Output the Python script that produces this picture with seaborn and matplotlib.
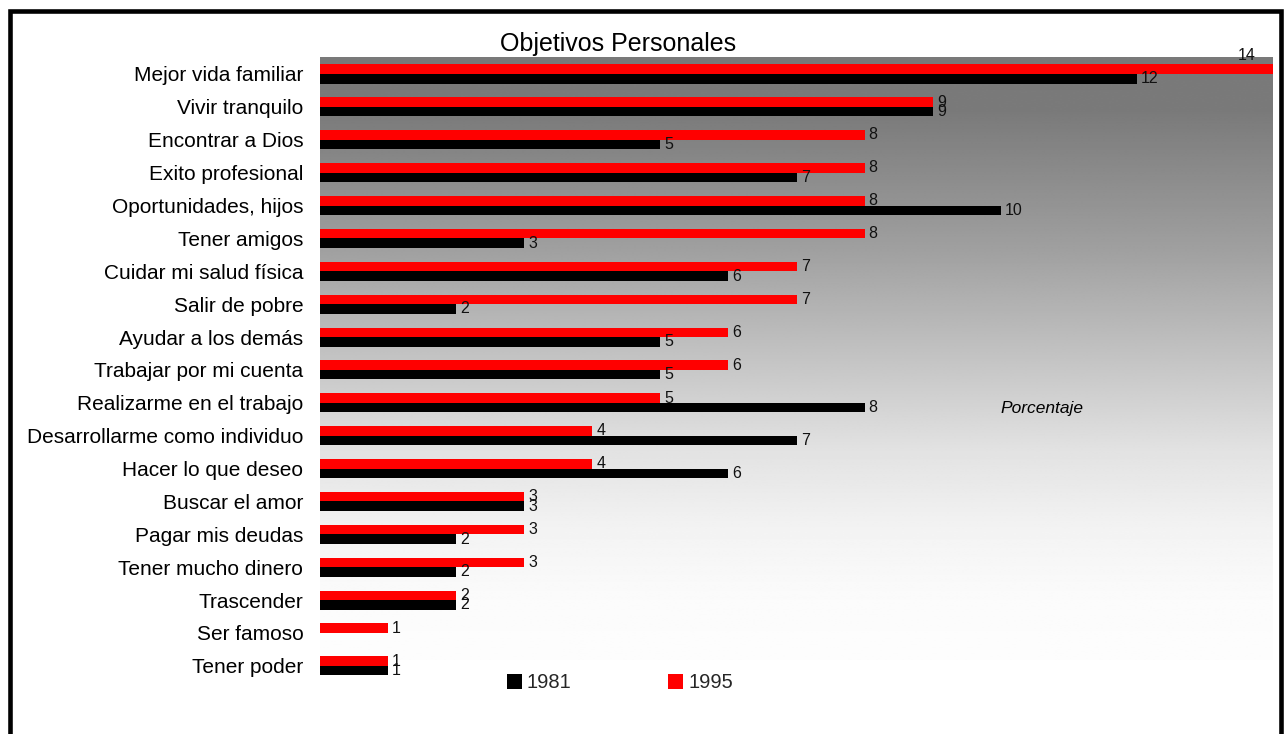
import numpy as np
import pandas as pd
import matplotlib
matplotlib.use("Agg")
import matplotlib.pyplot as plt
from matplotlib.patches import Rectangle, Patch
import seaborn as sns

categories = ["Mejor vida familiar", "Vivir tranquilo", "Encontrar a Dios",
              "Exito profesional", "Oportunidades, hijos", "Tener amigos",
              "Cuidar mi salud física", "Salir de pobre", "Ayudar a los demás",
              "Trabajar por mi cuenta", "Realizarme en el trabajo",
              "Desarrollarme como individuo", "Hacer lo que deseo",
              "Buscar el amor", "Pagar mis deudas", "Tener mucho dinero",
              "Trascender", "Ser famoso", "Tener poder"]
v1995 = [14, 9, 8, 8, 8, 8, 7, 7, 6, 6, 5, 4, 4, 3, 3, 3, 2, 1, 1]
v1981 = [12, 9, 5, 7, 10, 3, 6, 2, 5, 5, 8, 7, 6, 3, 2, 2, 2, 0, 1]
series = ["1995", "1981"]
legend_order = ["1981", "1995"]
colors = {"1995": "#ff0000", "1981": "#000000"}

df = pd.DataFrame({
    "Objetivo": categories * 2,
    "Porcentaje": v1995 + v1981,
    "Año": ["1995"] * len(categories) + ["1981"] * len(categories),
})

sns.set_theme(style="white")
plt.rcParams["font.family"] = ["Liberation Sans", "DejaVu Sans"]

W, H = 1284, 734
fig = plt.figure(figsize=(W / 100, H / 100), dpi=100)
fig.patch.set_facecolor("white")

ax_top_px, ax_bot_px = 57, 679
ax = fig.add_axes([320 / W, 1 - ax_bot_px / H, (1273 - 320) / W, (ax_bot_px - ax_top_px) / H])
ax.set_facecolor("none")

# vertical gradient background (dark grey at top fading to white)
ys = np.linspace(57, 660, 400)
g = np.interp(ys, [57, 110, 250, 450, 530, 600, 660],
              [122, 122, 160, 226, 243, 251, 253]) / 255.0
img = np.repeat(g[:, None], 2, axis=1)
grad_bottom = (ax_bot_px - 660) / (ax_bot_px - ax_top_px)
ax.imshow(img, cmap="gray", vmin=0, vmax=1, aspect="auto",
          extent=[0, 1, grad_bottom, 1], transform=ax.transAxes, zorder=0,
          interpolation="bilinear")

sns.barplot(data=df, y="Objetivo", x="Porcentaje", hue="Año", hue_order=series,
            palette=colors, orient="h", width=0.58, saturation=1,
            errorbar=None, legend=False, ax=ax, zorder=2, linewidth=0,
            edgecolor="none")

xmax = max(v1995 + v1981)
ax.set_xlim(0, xmax)
ax.set_ylim(18.4, -0.517)

for cont in ax.containers:
    vals = list(cont.datavalues)
    labels = []
    for v in vals:
        if v <= 0 or v >= xmax:
            labels.append("")
        else:
            labels.append(f"{v:g}")
    ax.bar_label(cont, labels=labels, padding=3, fontsize=11.5, color="#111111")
    for rect, v in zip(cont.patches, vals):
        if v >= xmax:
            ax.text(v - 0.25, rect.get_y() - 0.05, f"{v:g}", ha="right", va="bottom",
                    fontsize=11.5, color="#111111")

ax.set_xlabel("")
ax.set_ylabel("")
ax.set_xticks([])
ax.tick_params(axis="y", length=0, pad=12, labelsize=15, labelcolor="#000000")
for s in ax.spines.values():
    s.set_visible(False)

fig.text(618 / W, 1 - 44 / H, "Objetivos Personales", ha="center", va="center",
         fontsize=18, color="#000000")
fig.text(1042 / W, 1 - 408 / H, "Porcentaje", ha="center", va="center",
         fontsize=12.5, style="italic", color="#000000")

handles = [Patch(facecolor=colors[s], edgecolor="none", label=s) for s in legend_order]
fig.legend(handles=handles, loc="center", bbox_to_anchor=(620 / W, 1 - 683 / H),
           ncol=2, frameon=False, fontsize=14.5, handlelength=0.75, handleheight=0.75,
           handletextpad=0.25, columnspacing=4.8, borderpad=0)

fig.patches.append(Rectangle((9.5 / W, -0.1), (1281 - 9.5) / W, 1.1 - 11 / H,
                             transform=fig.transFigure, fill=False,
                             edgecolor="black", linewidth=3.3, zorder=10))

fig.savefig("out.png", dpi=100)
